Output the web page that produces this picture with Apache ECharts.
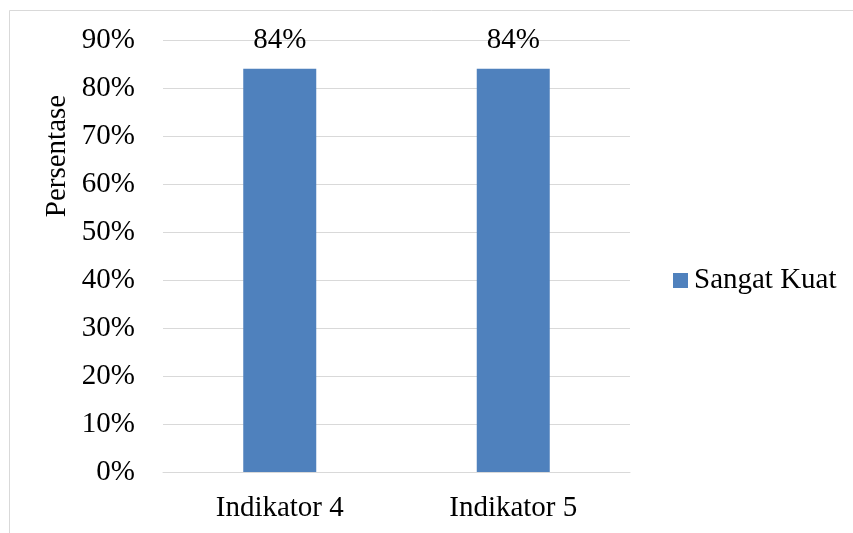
<!DOCTYPE html>
<html>
<head>
<meta charset="utf-8">
<script src="https://cdn.jsdelivr.net/npm/echarts@6/dist/echarts.min.js"></script>
<style>html,body{margin:0;padding:0;background:#fff}#c{width:853px;height:533px}</style>
</head>
<body>
<div id="c"></div>
<script>
const categories = ["Indikator 4", "Indikator 5"];
const seriesName = "Sangat Kuat";
const values = [0.84, 0.84];
const yTicks = [0, 0.1, 0.2, 0.3, 0.4, 0.5, 0.6, 0.7, 0.8, 0.9];
const yTitle = "Persentase";

const FONT = "'Liberation Serif', 'Times New Roman', serif";
const FS = 29;
const chart = echarts.init(document.getElementById('c'));
chart.setOption({
  animation: false,
  backgroundColor: '#fff',
  textStyle: { fontFamily: FONT },
  graphic: [
    { type: 'rect', shape: { x: 9.5, y: 10.5, width: 900, height: 600 }, style: { fill: 'none', stroke: '#d9d9d9', lineWidth: 1 }, silent: true },
    { type: 'text', x: 57, y: 156, rotation: Math.PI / 2, style: { text: yTitle, font: FS + "px " + FONT, fill: '#000', textAlign: 'center', textVerticalAlign: 'middle' } }
  ],
  legend: {
    data: [seriesName],
    orient: 'vertical',
    left: 668,
    top: 261,
    itemWidth: 15,
    itemHeight: 15,
    itemGap: 0,
    icon: 'rect',
    textStyle: { fontFamily: FONT, fontSize: FS, color: '#000', padding: [0, 0, 0, 1] }
  },
  grid: { left: 163, right: 223, top: 40, bottom: 61, containLabel: false },
  xAxis: {
    type: 'category',
    data: categories,
    axisLine: { show: true, lineStyle: { color: '#d9d9d9', width: 1 } },
    axisTick: { show: false },
    axisLabel: { color: '#000', fontFamily: FONT, fontSize: FS, margin: 22 }
  },
  yAxis: {
    type: 'value',
    min: 0, max: 0.9, interval: 0.1,
    axisLine: { show: false },
    axisTick: { show: false },
    splitLine: { lineStyle: { color: '#d9d9d9', width: 1 } },
    axisLabel: {
      color: '#000', fontFamily: FONT, fontSize: FS, margin: 28,
      formatter: v => { const t = yTicks.find(x => Math.abs(x - v) < 1e-6); return Math.round((t ?? v) * 100) + '%'; }
    }
  },
  series: [{
    name: seriesName,
    type: 'bar',
    data: values,
    barWidth: 73,
    itemStyle: { color: '#4f81bd' },
    label: {
      show: true, position: 'top', distance: 14,
      color: '#000', fontFamily: FONT, fontSize: FS,
      formatter: p => Math.round(p.value * 100) + '%'
    }
  }]
});
</script>
</body>
</html>
